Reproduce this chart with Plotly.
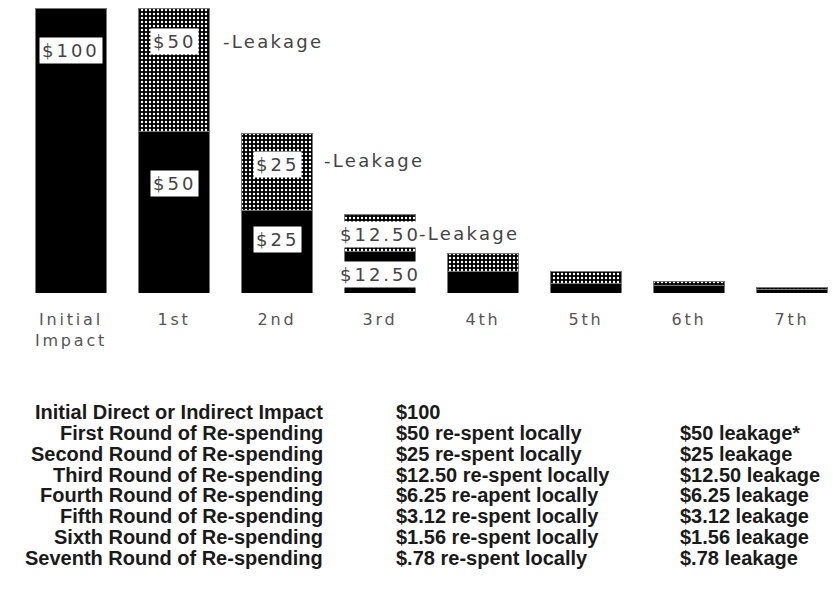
import plotly.graph_objects as go

# ---------------- data ----------------
categories = ["Initial Impact", "1st", "2nd", "3rd", "4th", "5th", "6th", "7th"]
tick_labels = ["Initial<br>Impact", "1st", "2nd", "3rd", "4th", "5th", "6th", "7th"]
# bar segment heights (dollar scale, initial = 100)
respent_heights = [100, 56.5, 29.1, 14.7, 7.7, 3.5, 2.5, 1.4]
leakage_heights = [0, 43.5, 26.7, 13.0, 6.3, 3.9, 1.4, 0.7]
# in-bar labels
bar_label_local = ["$100", "$50", "$25", "$12.50"]
bar_label_leak = [None, "$50", "$25", "$12.50"]

round_names = [
    "Initial Direct or Indirect Impact",
    "First Round of Re-spending",
    "Second Round of Re-spending",
    "Third Round of Re-spending",
    "Fourth Round of Re-spending",
    "Fifth Round of Re-spending",
    "Sixth Round of Re-spending",
    "Seventh Round of Re-spending",
]
respent_text = [
    "$100",
    "$50 re-spent locally",
    "$25 re-spent locally",
    "$12.50 re-spent locally",
    "$6.25 re-apent locally",
    "$3.12 re-spent locally",
    "$1.56 re-spent locally",
    "$.78 re-spent locally",
]
leakage_text = [
    "",
    "$50 leakage*",
    "$25 leakage",
    "$12.50 leakage",
    "$6.25 leakage",
    "$3.12 leakage",
    "$1.56 leakage",
    "$.78 leakage",
]

# ---------------- layout constants ----------------
W, H = 833, 604
AXIS_BOTTOM_PX = 293
LABEL_FONT = "DejaVu Sans, Verdana, sans-serif"
TABLE_FONT = "Liberation Sans, Arial, Helvetica, sans-serif"
GRAY = "#444444"


def spaced(t, ls=3):
    return f"<span style='letter-spacing:{ls}px'>{t}</span>"


fig = go.Figure()

fig.add_trace(go.Bar(
    x=categories, y=respent_heights, name="re-spent locally",
    width=0.68,
    marker=dict(color="black", line=dict(color="#777777", width=1)),
    hoverinfo="skip",
))
fig.add_trace(go.Bar(
    x=categories, y=leakage_heights, name="leakage",
    width=0.68,
    marker=dict(
        color="black",
        line=dict(color="#777777", width=1),
        pattern=dict(shape=".", fgcolor="white", bgcolor="black",
                     size=4, solidity=0.28, fillmode="replace"),
    ),
    hoverinfo="skip",
))

annotations = []

# in-bar labels, placed relative to the segment they describe
local_frac = [0.85, 0.68, 0.64, 0.43]
leak_frac = [None, 0.73, 0.60, 0.44]
for i, txt in enumerate(bar_label_local):
    annotations.append(dict(
        x=i, y=respent_heights[i] * local_frac[i], xref="x", yref="y",
        text=spaced(txt, 3), showarrow=False, bgcolor="white", borderpad=2,
        font=dict(family=LABEL_FONT, size=18, color=GRAY),
        xanchor="center", yanchor="middle",
    ))
for i, txt in enumerate(bar_label_leak):
    if txt is None:
        continue
    yv = respent_heights[i] + leakage_heights[i] * leak_frac[i]
    annotations.append(dict(
        x=i, y=yv, xref="x", yref="y",
        text=spaced(txt, 3), showarrow=False, bgcolor="white", borderpad=2,
        font=dict(family=LABEL_FONT, size=18, color=GRAY),
        xanchor="center", yanchor="middle",
    ))
    # "-Leakage" note beside the bar
    annotations.append(dict(
        x=i + [0, 0.455, 0.44, 0.36][i], y=yv + [0, 0, 1.5, 0.5][i],
        xref="x", yref="y",
        text=spaced("-Leakage", 2.3), showarrow=False,
        font=dict(family=LABEL_FONT, size=18, color=GRAY),
        xanchor="left", yanchor="middle",
    ))

# explanatory table below the chart
line0, step = 412, 20.86
for r in range(len(round_names)):
    yp = 1 - (line0 + r * step) / H
    annotations.append(dict(
        x=325 / W, y=yp, xref="paper", yref="paper", text=f"<b>{round_names[r]}</b>",
        showarrow=False, xanchor="right", yanchor="middle",
        font=dict(family=TABLE_FONT, size=20, color="#1a1a1a"),
    ))
    annotations.append(dict(
        x=394 / W, y=yp, xref="paper", yref="paper", text=f"<b>{respent_text[r]}</b>",
        showarrow=False, xanchor="left", yanchor="middle",
        font=dict(family=TABLE_FONT, size=20, color="#1a1a1a"),
    ))
    if leakage_text[r]:
        annotations.append(dict(
            x=678 / W, y=yp, xref="paper", yref="paper", text=f"<b>{leakage_text[r]}</b>",
            showarrow=False, xanchor="left", yanchor="middle",
            font=dict(family=TABLE_FONT, size=20, color="#1a1a1a"),
        ))

y_top = 100 * AXIS_BOTTOM_PX / 285.0

fig.update_layout(
    width=W, height=H,
    margin=dict(l=0, r=0, t=0, b=0),
    paper_bgcolor="white", plot_bgcolor="white",
    barmode="stack",
    showlegend=False,
    annotations=annotations,
    xaxis=dict(
        type="category",
        range=[-71 / 103, (W - 71) / 103],
        tickmode="array", tickvals=categories,
        ticktext=["<br>".join(spaced(p, 2.8) for p in t.split("<br>")) for t in tick_labels],
        ticks="outside", ticklen=12, tickcolor="white",
        tickfont=dict(family=LABEL_FONT, size=16, color="#555555"),
        showline=False, showgrid=False, zeroline=False, automargin=False,
        fixedrange=True,
    ),
    yaxis=dict(
        domain=[1 - AXIS_BOTTOM_PX / H, 1],
        range=[0, y_top],
        visible=False, showgrid=False, zeroline=False, fixedrange=True,
    ),
)

fig.write_html("out.html")
